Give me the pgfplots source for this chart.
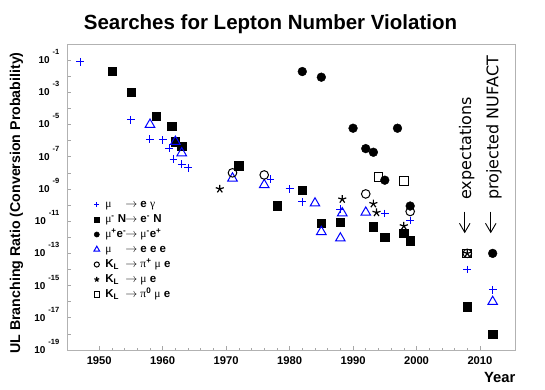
\documentclass[border=0pt]{standalone}
\usepackage{fontspec}
\setmainfont{Liberation Sans}
\newfontfamily\symf{Liberation Serif}
\newfontfamily\labf{DejaVu Sans}
\usepackage{pgfplots}
\pgfplotsset{compat=1.18}
\usetikzlibrary{arrows.meta}

\newcommand{\tl}[1]{\textbf{10}\hspace{3pt}\smash{\raisebox{9pt}{\fontsize{7.5}{8}\selectfont\textbf{#1}}}}
\newcommand{\gmu}{{\symf\mdseries μ}}
\newcommand{\sups}[1]{\textsuperscript{#1}}

\pgfplotsset{
  pts/.style={only marks,
    legend image code/.code={%
      \path[draw=none, fill=none] (0pt,0pt) -- (13pt,0pt);
      \draw[mark repeat=2,mark phase=2] plot coordinates {(0pt,0pt)(6pt,0pt)(13pt,0pt)};}},
}

\begin{document}
\begin{tikzpicture}[x=1pt,y=1pt]
\path[use as bounding box] (0,0) rectangle (545,389);

\begin{axis}[
    at={(67.5pt,39pt)}, anchor=south west,
    scale only axis, width=448pt, height=306pt,
    xmin=1945, xmax=2015.6,
    ymode=log, ymin=1e-19, ymax=1,
    axis line style={gray!60, line width=0.8pt},
    tick pos=left,
    tick style={gray!70, line width=0.6pt},
    major tick length=4pt, minor tick length=2pt,
    xtick={1950,1960,1970,1980,1990,2000,2010},
    xticklabels={1950,1960,1970,1980,1990,2000,2010},
    minor x tick num=4,
    xticklabel style={anchor=north, inner sep=0pt, yshift=-6pt, font=\bfseries\fontsize{11.2}{13}\selectfont},
    ytick={1e-19,1e-18,1e-17,1e-16,1e-15,1e-14,1e-13,1e-12,1e-11,1e-10,1e-9,1e-8,1e-7,1e-6,1e-5,1e-4,1e-3,1e-2,1e-1},
    yticklabels={\tl{-19},{},\tl{-17},{},\tl{-15},{},\tl{-13},{},\tl{-11},{},\tl{-9},{},\tl{-7},{},\tl{-5},{},\tl{-3},{},\tl{-1}},
    yminorticks=false,
    yticklabel style={anchor=east, inner sep=0pt, xshift=-8pt, font=\fontsize{10}{12}\selectfont},
    legend image post style={/tikz/every mark/.append style={scale=0.6}},
    legend cell align=left,
    legend style={draw=none, fill=none, inner sep=0pt, outer sep=0pt,
        at={(axis description cs:0.052,0.50)}, anchor=north west,
        column sep=0pt,
        nodes={text height=9pt, text depth=3pt, inner sep=1.5pt},
        font=\bfseries\fontsize{11.5}{13}\selectfont},
    clip=false,
]

% mu -> e gamma
\addplot[pts, mark=+, blue, mark size=3.9pt, line width=1pt] coordinates {
  (1947,8e-2) (1955,2e-5) (1958,1.2e-6) (1960,1.1e-6) (1961,3.4e-7) (1961.7,7e-8)
  (1963,3.5e-8) (1964,2e-8) (1977,4e-9) (1980,1e-9) (1982,1.6e-10) (1988,5.5e-11)
  (1995,3e-11) (1999,1.1e-11) (2008,1e-14) (2012,5.4e-16)
};
\addlegendentry{\makebox[20pt][l]{\gmu}$\rightarrow$ e {\symf\mdseries γ}}

% mu- N -> e- N
\addplot[pts, mark=square*, black, mark size=4.2pt] coordinates {
  (1952,2.1e-2) (1955,1e-3) (1959,3.2e-5) (1961.4,8e-6) (1962,8.7e-7) (1963,4.7e-7)
  (1972,2.7e-8) (1978,9e-11) (1982,8.7e-10) (1985,7.4e-12) (1988,8.9e-12)
  (1993.2,4.6e-12) (1995,1e-12) (1998,1.8e-12) (1999,6.3e-13) (2008,4.9e-17) (2012,1e-18)
};
\addlegendentry{\makebox[20pt][l]{\gmu\sups{-} N}$\rightarrow$ e\sups{-} N}

% mu+ e- -> mu- e+
\addplot[pts, mark=*, black, mark size=4.4pt] coordinates {
  (1982,1.95e-2) (1985,8.7e-3) (1990,5.9e-6) (1997,5.9e-6) (1992,3.2e-7)
  (1993.2,1.9e-7) (1995,3.5e-9) (1999,8.7e-11) (2012,1e-13)
};
\addlegendentry{\makebox[20pt][l]{\gmu\sups{+}e\sups{-}}$\rightarrow$ \gmu\sups{-}e\sups{+}}

% mu -> e e e
\addplot[pts, mark=triangle, blue, mark size=5.5pt, line width=1pt] coordinates {
  (1958,1e-5) (1962,8.7e-7) (1963,1.7e-7) (1971,4.6e-9) (1976,1.8e-9) (1984,1.3e-10)
  (1985,2.2e-12) (1988.3,3.2e-11) (1988,8.7e-13) (1992,3.5e-11) (2012,1e-16)
};
\addlegendentry{\makebox[20pt][l]{\gmu}$\rightarrow$ e e e}

% K_L -> pi+ mu e
\addplot[pts, mark=o, black, mark size=4.3pt, line width=1pt] coordinates {
  (1971,1e-8) (1976,7.4e-9) (1992,4.9e-10) (1999,4e-11) (2008,1e-13)
};
\addlegendentry{\makebox[20pt][l]{K\textsubscript{L}}$\rightarrow$ {\symf\mdseries π}\sups{+} \gmu{} e}

% K_L -> mu e
\addplot[pts, mark=star, black, mark size=4.2pt, line width=1.2pt] coordinates {
  (1969,1e-9) (1988.3,2.3e-10) (1993.2,1.2e-10) (1993.7,3.4e-11) (1998,5e-12) (2008,1e-13)
};
\addlegendentry{\makebox[20pt][l]{K\textsubscript{L}}$\rightarrow$ \gmu{} e}

% K_L -> pi0 mu e
\addplot[pts, mark=square, black, mark size=4.3pt, line width=1pt] coordinates {
  (1994,5.4e-9) (1998,3.2e-9) (2008,1e-13)
};
\addlegendentry{\makebox[20pt][l]{K\textsubscript{L}}$\rightarrow$ {\symf\mdseries π}\sups{0} \gmu{} e}

\node[rotate=90, anchor=west, inner sep=0pt, font=\labf\fontsize{16}{18}\selectfont]
  at (axis cs:2007.9,2.1e-10) {expectations};
\node[rotate=90, anchor=west, inner sep=0pt, font=\labf\fontsize{16}{18}\selectfont]
  at (axis cs:2012.2,2.1e-10) {projected NUFACT};
\draw[line width=0.9pt, -{Straight Barb[length=9pt,width=10.5pt]}]
  (axis cs:2007.6,3.9e-11) -- (axis cs:2007.6,1.78e-12);
\draw[line width=0.9pt, -{Straight Barb[length=9pt,width=10.5pt]}]
  (axis cs:2011.7,3.9e-11) -- (axis cs:2011.7,1.78e-12);
\end{axis}

\node[anchor=base, inner sep=0pt, font=\bfseries\fontsize{20.5}{24}\selectfont]
  at (270.5,359) {Searches for Lepton Number Violation};
\node[rotate=90, anchor=base, inner sep=0pt, font=\bfseries\fontsize{14.2}{16}\selectfont]
  at (20,186) {UL Branching Ratio (Conversion Probability)};
\node[anchor=base east, inner sep=0pt, font=\bfseries\fontsize{14.8}{16}\selectfont]
  at (515.5,6.7) {Year};
\end{tikzpicture}
\end{document}
